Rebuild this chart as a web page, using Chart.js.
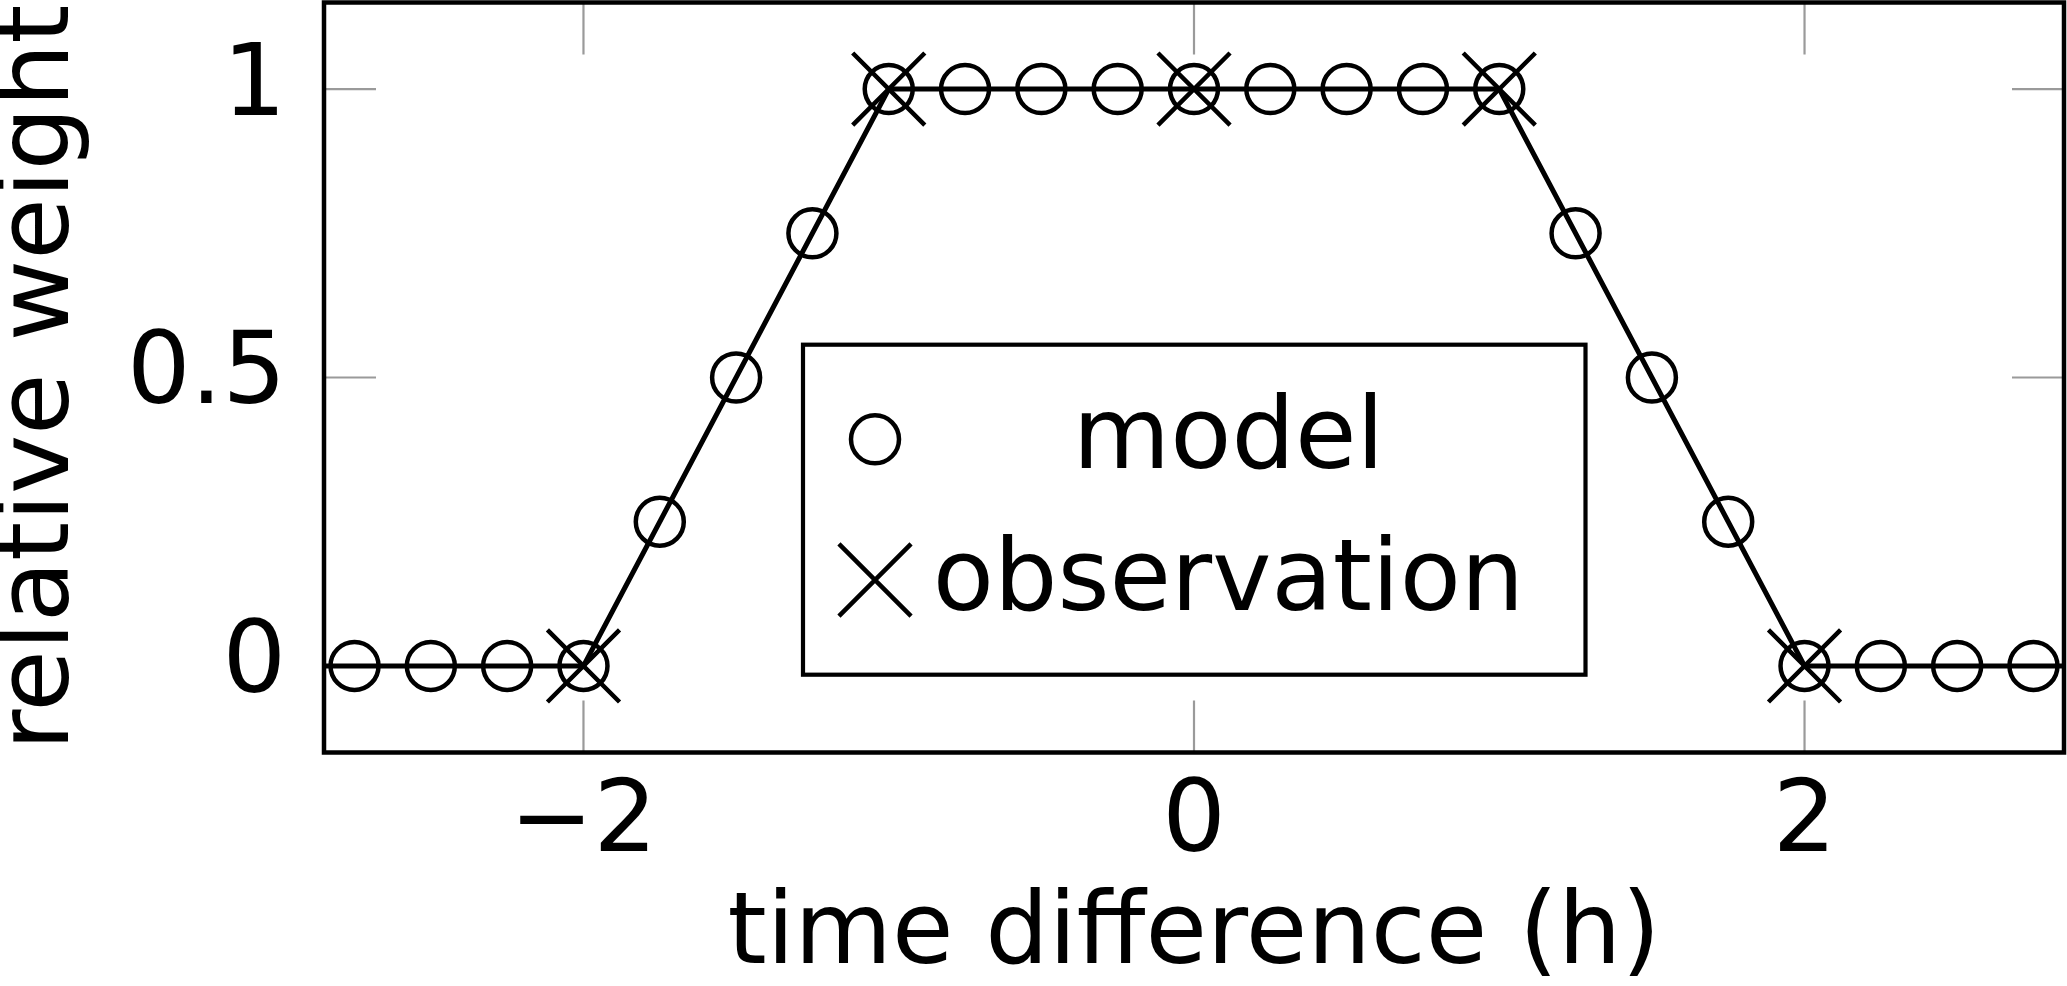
<!DOCTYPE html>
<html><head><meta charset="utf-8">
<script src="https://cdn.jsdelivr.net/npm/chart.js@4"></script>
<style>html,body{margin:0;padding:0;background:#fff;overflow:hidden}canvas{display:block}</style>
</head><body>
<canvas id="c" width="2067" height="986"></canvas>
<script>
// ---- data ----
const modelX = [-2.75,-2.5,-2.25,-2,-1.75,-1.5,-1.25,-1,-0.75,-0.5,-0.25,0,0.25,0.5,0.75,1,1.25,1.5,1.75,2,2.25,2.5,2.75];
const modelY = [0,0,0,0,0.25,0.5,0.75,1,1,1,1,1,1,1,1,1,0.75,0.5,0.25,0,0,0,0];
const obsX = [-2,-1,0,1,2];
const obsY = [0,1,1,1,0];
const lineX = [-3,-2,-1,1,2,3];
const lineY = [0,0,1,1,0,0];
const xTicks = [-2,0,2];
const xTickLabels = ['\u22122','0','2'];
const yTicks = [0,0.5,1];
const yTickLabels = ['0','0.5','1'];
const seriesLabels = ['model','observation'];
const xTitle = 'time difference (h)';
const yTitle = 'relative weight';

const FONT = 'DejaVu Sans';
Chart.defaults.font.family = FONT;
Chart.defaults.color = '#000';

const pts = (xs, ys) => xs.map((x, i) => ({x, y: ys[i]}));
const noPad = s => { s.paddingTop = 0; s.paddingBottom = 0; s.paddingLeft = 0; s.paddingRight = 0; };

const framePlugin = {
  id: 'frame',
  beforeDatasetsDraw(chart) {
    const {ctx, chartArea: a, scales} = chart;
    const L = 52;
    ctx.save();
    ctx.strokeStyle = '#9a9a9a';
    ctx.lineWidth = 2.2;
    ctx.beginPath();
    scales.x.ticks.forEach(t => {
      const px = scales.x.getPixelForValue(t.value);
      ctx.moveTo(px, a.top); ctx.lineTo(px, a.top + L);
      ctx.moveTo(px, a.bottom); ctx.lineTo(px, a.bottom - L);
    });
    scales.y.ticks.forEach(t => {
      const py = scales.y.getPixelForValue(t.value);
      ctx.moveTo(a.left, py); ctx.lineTo(a.left + L, py);
      ctx.moveTo(a.right, py); ctx.lineTo(a.right - L, py);
    });
    ctx.stroke();
    ctx.restore();
  },
  afterDatasetsDraw(chart) {
    const {ctx, chartArea: a} = chart;
    ctx.save();
    ctx.strokeStyle = '#000';
    ctx.lineWidth = 4.5;
    ctx.strokeRect(a.left, a.top, a.right - a.left, a.bottom - a.top);

    // legend
    const box = {l: 803, t: 344.7, r: 1585.5, b: 674.7};
    ctx.fillStyle = '#fff';
    ctx.fillRect(box.l, box.t, box.r - box.l, box.b - box.t);
    ctx.lineWidth = 4.2;
    ctx.strokeRect(box.l, box.t, box.r - box.l, box.b - box.t);
    const rows = [{my: 439.3, ty: 468}, {my: 580, ty: 610}];
    const markerX = 875, textX = 1228.5;
    const ds = chart.data.datasets.filter(d => d.inLegend);
    ds.forEach((d, i) => {
      const r = d.pointRadius, y = rows[i].my;
      ctx.strokeStyle = '#000';
      ctx.lineWidth = d.pointBorderWidth;
      ctx.beginPath();
      if (d.pointStyle === 'circle') {
        ctx.arc(markerX, y, r, 0, Math.PI * 2);
      } else {
        const o = r * Math.SQRT1_2;
        ctx.moveTo(markerX - o, y - o); ctx.lineTo(markerX + o, y + o);
        ctx.moveTo(markerX - o, y + o); ctx.lineTo(markerX + o, y - o);
      }
      ctx.stroke();
      ctx.fillStyle = '#000';
      ctx.font = '100px "' + FONT + '"';
      ctx.textAlign = 'center';
      ctx.textBaseline = 'alphabetic';
      ctx.fillText(d.label, textX, rows[i].ty);
    });
    ctx.restore();
  }
};

new Chart(document.getElementById('c'), {
  type: 'scatter',
  data: {
    datasets: [
      {
        label: 'line', data: pts(lineX, lineY), showLine: true,
        borderColor: '#000', borderWidth: 5, pointRadius: 0, pointHoverRadius: 0,
        fill: false, tension: 0, inLegend: false
      },
      {
        label: seriesLabels[0], data: pts(modelX, modelY), showLine: false,
        pointStyle: 'circle', pointRadius: 24, pointHoverRadius: 24,
        pointBorderWidth: 4.5, pointBorderColor: '#000',
        pointBackgroundColor: 'rgba(0,0,0,0)', inLegend: true
      },
      {
        label: seriesLabels[1], data: pts(obsX, obsY), showLine: false,
        pointStyle: 'crossRot', pointRadius: 51, pointHoverRadius: 51,
        pointBorderWidth: 4.5, pointBorderColor: '#000',
        pointBackgroundColor: 'rgba(0,0,0,0)', inLegend: true
      }
    ]
  },
  options: {
    responsive: false,
    devicePixelRatio: 1,
    animation: false,
    events: [],
    layout: {autoPadding: false, padding: {left: 0, top: 2.5, right: 3, bottom: 0}},
    plugins: {legend: {display: false}, tooltip: {enabled: false}},
    scales: {
      x: {
        type: 'linear', position: 'bottom', min: -2.85, max: 2.85,
        afterBuildTicks: s => { s.ticks = xTicks.map(v => ({value: v})); },
        afterFit: s => { s.height = 233.5; noPad(s); },
        grid: {display: false, drawTicks: false},
        border: {display: false},
        ticks: {
          font: {size: 100, lineHeight: 1.2}, color: '#000', padding: 13,
          maxRotation: 0, autoSkip: false,
          callback: v => xTickLabels[xTicks.indexOf(v)]
        },
        title: {
          display: true, text: xTitle, color: '#000',
          font: {size: 100, lineHeight: 1}, padding: {top: 0, bottom: -1}
        }
      },
      y: {
        type: 'linear', position: 'left', min: -0.15, max: 1.15,
        afterBuildTicks: s => { s.ticks = yTicks.map(v => ({value: v})); },
        afterFit: s => { s.width = 324; noPad(s); },
        grid: {display: false, drawTicks: false},
        border: {display: false},
        ticks: {
          font: {size: 100, lineHeight: 1.2}, color: '#000', padding: 38,
          autoSkip: false,
          callback: v => yTickLabels[yTicks.indexOf(v)]
        },
        title: {
          display: true, text: yTitle, color: '#000',
          font: {size: 100, lineHeight: 1}, padding: {top: -8, bottom: 0}
        }
      }
    }
  },
  plugins: [framePlugin]
});
</script>
</body></html>
